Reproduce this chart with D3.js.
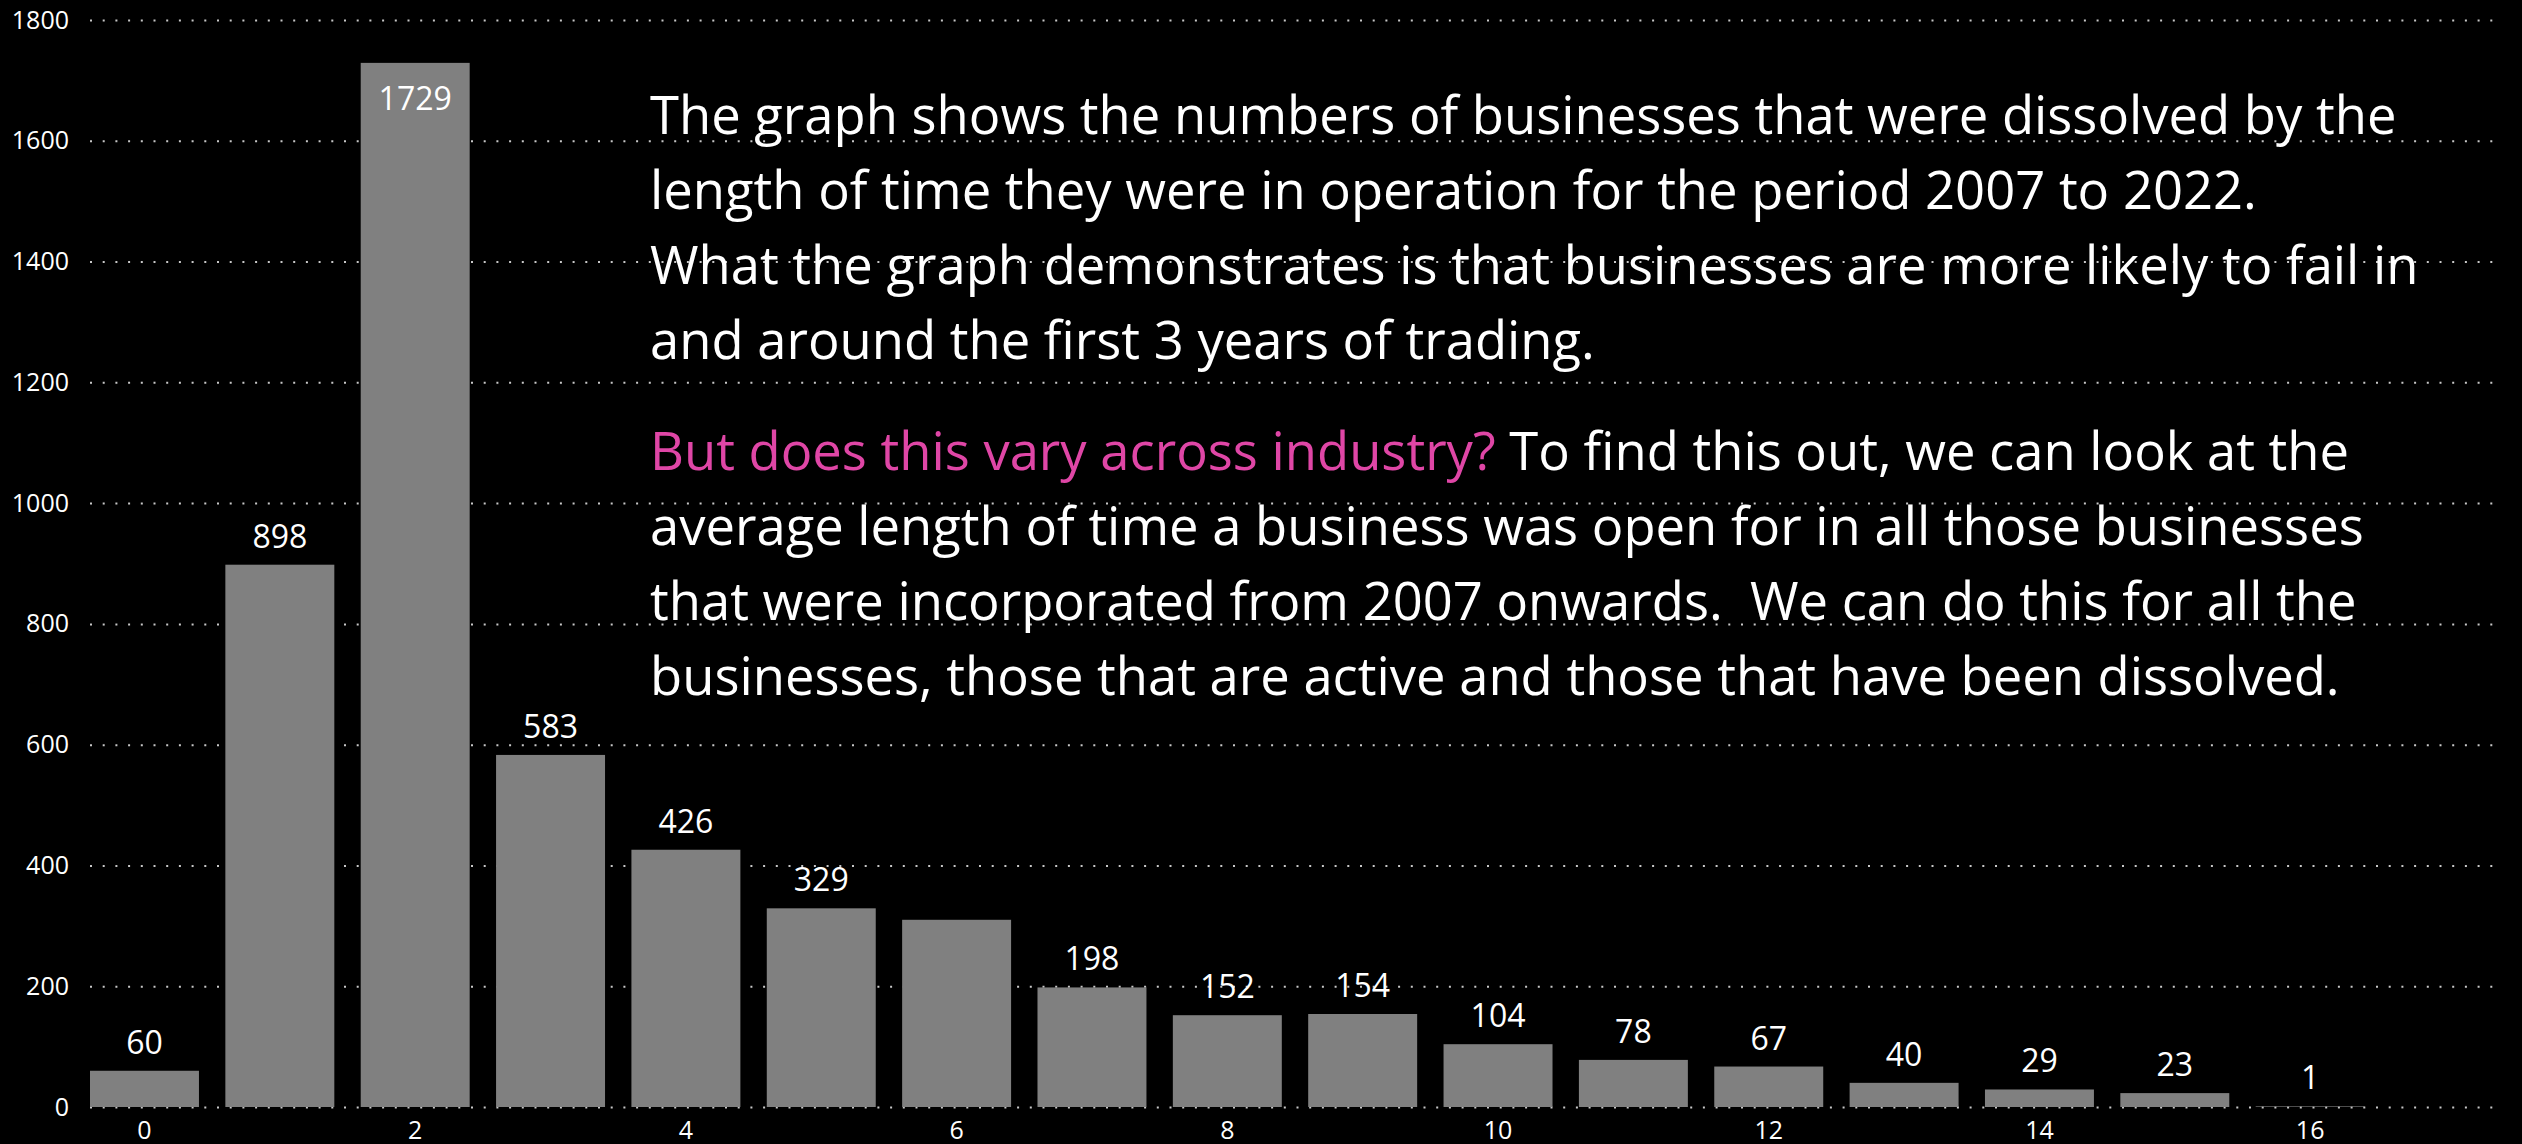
<!DOCTYPE html>
<html>
<head>
<meta charset="utf-8">
<script src="https://cdn.jsdelivr.net/npm/d3@7"></script>
<style>
  html, body { margin: 0; padding: 0; background: #000; overflow: hidden; }
  #chart text { font-family: "Segoe UI", "Open Sans", sans-serif; }
</style>
</head>
<body>
<div id="chart"></div>
<script>
var width = 2522,
    height = 1144;

// years in operation before dissolution -> number of businesses
var dataset = [
  {years: 0, count: 60},
  {years: 1, count: 898},
  {years: 2, count: 1729},
  {years: 3, count: 583},
  {years: 4, count: 426},
  {years: 5, count: 329},
  {years: 6, count: 310, hideLabel: true},
  {years: 7, count: 198},
  {years: 8, count: 152},
  {years: 9, count: 154},
  {years: 10, count: 104},
  {years: 11, count: 78},
  {years: 12, count: 67},
  {years: 13, count: 40},
  {years: 14, count: 29},
  {years: 15, count: 23},
  {years: 16, count: 1}
];

var para1 = [
  "The graph shows the numbers of businesses that were dissolved by the",
  "length of time they were in operation for the period 2007 to 2022.",
  "What the graph demonstrates is that businesses are more likely to fail in",
  "and around the first 3 years of trading."
];
var para2 = [
  [{t: "But does this vary across industry?", pink: true}, {t: " To find this out, we can look at the"}],
  [{t: "average length of time a business was open for in all those businesses"}],
  [{t: "that were incorporated from 2007 onwards.\u00a0 We can do this for all the"}],
  [{t: "businesses, those that are active and those that have been dissolved."}]
];

// plot area (note: "top" is reserved on window, so prefixed names)
var plotLeft = 90, plotRight = 2500, plotTop = 20, plotBottom = 1107;

var svg = d3.select("#chart").append("svg")
  .attr("width", width)
  .attr("height", height)
  .style("background", "#000");

var x = d3.scaleBand()
  .domain(d3.range(0, 18))   // one empty slot after 16
  .range([plotLeft, plotRight])
  .paddingInner(0.195)
  .paddingOuter(0);

var y = d3.scaleLinear()
  .domain([0, 1800])
  .range([plotBottom, plotTop]);

// y axis + dotted gridlines
var yAxis = svg.append("g")
  .attr("transform", "translate(" + plotLeft + ",0)")
  .call(d3.axisLeft(y)
    .tickValues(d3.range(0, 1801, 200))
    .tickFormat(d3.format("d"))
    .tickSizeInner(-(plotRight - plotLeft))
    .tickSizeOuter(0)
    .tickPadding(21));
yAxis.select(".domain").remove();
yAxis.selectAll(".tick line")
  .style("stroke", "#c8c8c8")
  .style("stroke-width", 2)
  .style("stroke-dasharray", "2,10.7");
yAxis.selectAll(".tick text")
  .style("fill", "#fff")
  .style("font-size", "25px");

// x axis, every second year
var xAxis = svg.append("g")
  .attr("transform", "translate(0," + plotBottom + ")")
  .call(d3.axisBottom(x)
    .tickValues(d3.range(0, 17, 2))
    .tickSize(0)
    .tickPadding(14));
xAxis.select(".domain").remove();
xAxis.selectAll(".tick text")
  .style("fill", "#fff")
  .style("font-size", "25px");

// bars
svg.selectAll(".bar")
  .data(dataset)
  .enter()
  .append("rect")
  .attr("class", "bar")
  .attr("x", function(d) { return x(d.years); })
  .attr("y", function(d) { return y(d.count); })
  .attr("width", x.bandwidth())
  .attr("height", function(d) { return plotBottom - y(d.count); })
  .style("fill", "#808080");

// data labels, inside the bar when there is no room above
svg.selectAll(".label")
  .data(dataset.filter(function(d) { return !d.hideLabel; }))
  .enter()
  .append("text")
  .attr("class", "label")
  .attr("x", function(d) { return x(d.years) + x.bandwidth() / 2; })
  .attr("y", function(d) {
    var ly = y(d.count) - 17;
    if (ly - 30 < plotTop) ly = y(d.count) + 47;
    return ly;
  })
  .attr("text-anchor", "middle")
  .style("fill", "#fff")
  .style("font-size", "32px")
  .text(function(d) { return d.count; });

// commentary text
var note = svg.append("g").attr("class", "note");
var textX = 650, lineH = 75;

var p1 = note.append("text")
  .attr("x", textX)
  .attr("y", 134)
  .style("fill", "#fff");
p1.selectAll("tspan")
  .data(para1)
  .enter()
  .append("tspan")
  .attr("x", textX)
  .attr("dy", function(d, i) { return i === 0 ? 0 : lineH; })
  .text(function(d) { return d; });

var p2 = note.append("text")
  .attr("x", textX)
  .attr("y", 470)
  .style("fill", "#fff");
para2.forEach(function(line, i) {
  line.forEach(function(part, j) {
    var ts = p2.append("tspan").text(part.t);
    if (j === 0) ts.attr("x", textX).attr("dy", i === 0 ? 0 : lineH);
    if (part.pink) ts.style("fill", "#df46a6");
  });
});

// size the font so the first line spans the same width as the original
note.selectAll("text").style("font-size", "100px");
var w = p1.select("tspan").node().getComputedTextLength();
var fs = 100 * 1747 / w;
note.selectAll("text").style("font-size", fs + "px");
</script>
</body>
</html>
